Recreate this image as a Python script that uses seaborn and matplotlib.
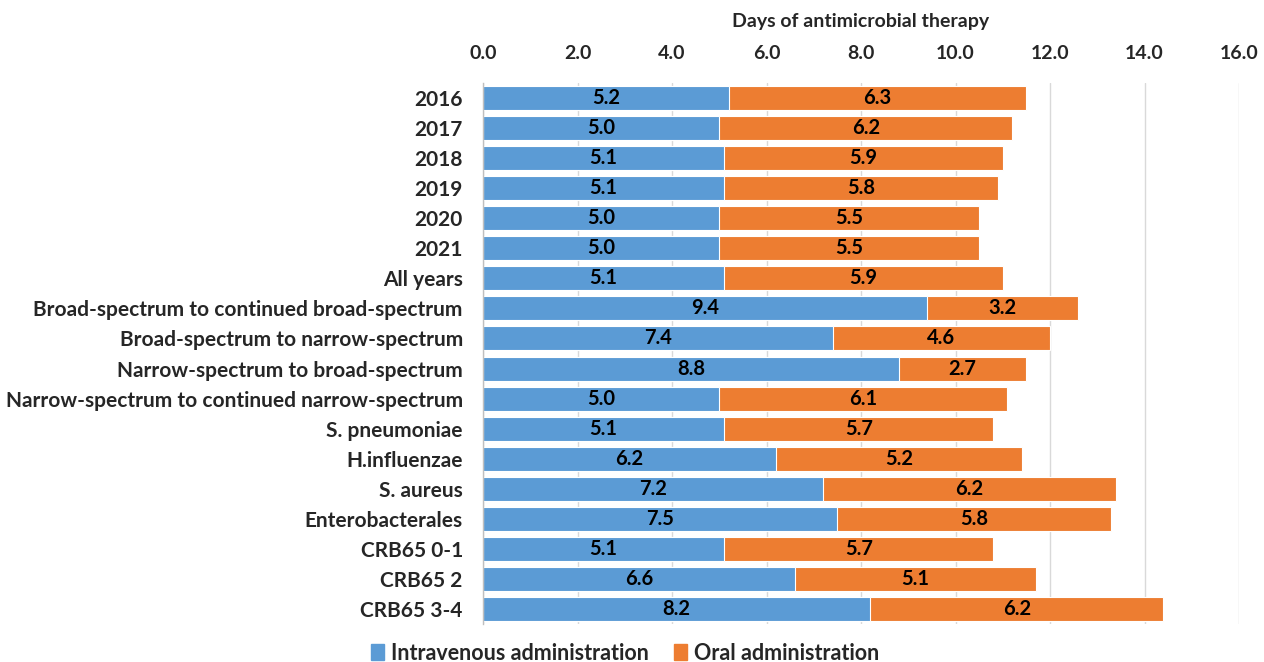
import matplotlib
matplotlib.use("Agg")
import matplotlib.pyplot as plt
from matplotlib.patches import Patch
import seaborn as sns
import pandas as pd

categories = ["2016", "2017", "2018", "2019", "2020", "2021", "All years",
              "Broad-spectrum to continued broad-spectrum",
              "Broad-spectrum to narrow-spectrum",
              "Narrow-spectrum to broad-spectrum",
              "Narrow-spectrum to continued narrow-spectrum",
              "S. pneumoniae", "H.influenzae", "S. aureus", "Enterobacterales",
              "CRB65 0-1", "CRB65 2", "CRB65 3-4"]
iv_days = [5.2, 5.0, 5.1, 5.1, 5.0, 5.0, 5.1, 9.4, 7.4, 8.8, 5.0, 5.1, 6.2, 7.2, 7.5, 5.1, 6.6, 8.2]
oral_days = [6.3, 6.2, 5.9, 5.8, 5.5, 5.5, 5.9, 3.2, 4.6, 2.7, 6.1, 5.7, 5.2, 6.2, 5.8, 5.7, 5.1, 6.2]
x_ticks = [0, 2, 4, 6, 8, 10, 12, 14, 16]

BLUE = "#5B9BD5"
ORANGE = "#ED7D31"

sns.set_theme(style="white")
plt.rcParams["font.family"] = ["Lato", "DejaVu Sans"]

df = pd.DataFrame({"cat": categories, "iv": iv_days, "oral": oral_days})
df["total"] = df["iv"] + df["oral"]

fig = plt.figure(figsize=(12.64, 6.62), dpi=100)
ax = fig.add_axes([483/1264, 1 - 624/662, (1239-483)/1264, (624-83)/662])

sns.barplot(data=df, y="cat", x="total", color=ORANGE, orient="h", width=0.8,
            saturation=1, edgecolor="white", linewidth=0.8, ax=ax, order=categories)
sns.barplot(data=df, y="cat", x="iv", color=BLUE, orient="h", width=0.8,
            saturation=1, edgecolor="white", linewidth=0.8, ax=ax, order=categories)

for i, (a, b) in enumerate(zip(iv_days, oral_days)):
    ax.text(a / 2, i, f"{a:.1f}", ha="center", va="center", fontsize=14.5,
            fontweight="bold", color="black")
    ax.text(a + b / 2, i, f"{b:.1f}", ha="center", va="center", fontsize=14.5,
            fontweight="bold", color="black")

ax.set_xlim(0, 16)
ax.set_ylim(len(categories) - 0.5, -0.5)
ax.set_xticks(x_ticks)
ax.set_xticklabels([f"{t:.1f}" for t in x_ticks], fontsize=14, fontweight="bold")
ax.xaxis.tick_top()
ax.xaxis.set_label_position("top")
ax.set_xlabel("Days of antimicrobial therapy", fontsize=14, fontweight="bold", labelpad=13)
ax.set_ylabel("")
ax.set_yticks(range(len(categories)))
ax.set_yticklabels(categories, fontsize=15, fontweight="bold")
ax.tick_params(axis="x", length=0, pad=15)
ax.tick_params(axis="y", length=0, pad=14.5)

ax.grid(axis="x", color="#D9D9D9", linewidth=1)
ax.set_axisbelow(True)
for s in ["top", "right", "bottom"]:
    ax.spines[s].set_visible(False)
ax.spines["left"].set_color("#BFBFBF")
ax.spines["left"].set_linewidth(1)

handles = [Patch(color=BLUE, label="Intravenous administration"),
           Patch(color=ORANGE, label="Oral administration")]
fig.legend(handles=handles, loc="center", bbox_to_anchor=(625/1264, 1 - 653/662),
           ncol=2, frameon=False, handlelength=0.6, handleheight=0.8,
           columnspacing=1.2, handletextpad=0.3, prop={"weight": "bold", "size": 15.5})

fig.savefig("out.png", dpi=100)
